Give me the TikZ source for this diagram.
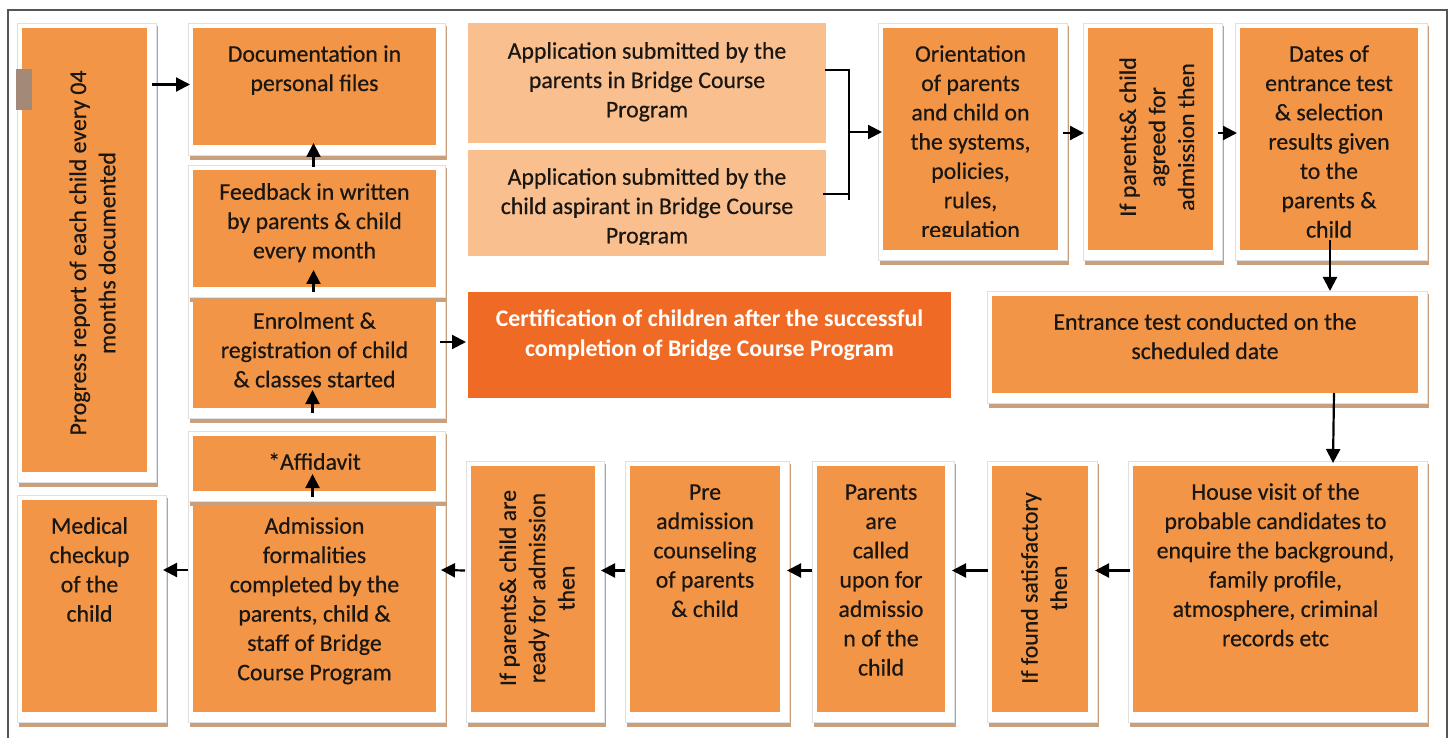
\documentclass[tikz,border=0pt]{standalone}
\usepackage{fontspec}
\setmainfont{Carlito}
\newfontfamily\bodyfont{Carlito}[FakeBold=0.5]
\usetikzlibrary{arrows.meta,fit,calc}
\definecolor{boxor}{HTML}{F39547}
\definecolor{applt}{HTML}{F9BF8F}
\definecolor{certor}{HTML}{EF6A24}
\definecolor{shad}{HTML}{C8A07D}
\definecolor{framec}{HTML}{555555}
\definecolor{artc}{HTML}{A38A78}
\definecolor{inkc}{HTML}{1A1612}
\tikzset{
  box/.style={draw=none, inner sep=0pt, outer sep=0pt},
  txt/.style={font=\bodyfont\fontsize{23.8}{29.3}\selectfont, align=center, inner sep=0pt, text=inkc},
  arr/.style={line width=2.2pt, draw=black, -{Triangle[length=14pt,width=14pt]}},
  brk/.style={line width=2.2pt, draw=black},
}
\newcommand\card[4]{%
  \fill[shad] (#1-3,#2-2) rectangle (#3+11,#4+15);
  \filldraw[fill=white, draw=black!12, line width=0.6pt] (#1-5,#2-5) rectangle (#3+9,#4+10);
}
\newcommand\bx[6]{\node[box, fill=#6, fit={(#2,#3) (#4,#5)}] (#1) {};}
\newcommand\ttx[4]{\node[txt, anchor=north] (#1) at (#2,#3-14) {\strut #4};}
\begin{document}
\begin{tikzpicture}[x=1pt,y=-1pt]
\useasboundingbox (0,0) rectangle (1452,738);
\fill[white] (0,0) rectangle (1452,738);
% frame
\draw[framec, line width=1.5pt] (8,738) -- (8,10) -- (1447,10) -- (1447,738);

% cards (shadow panels)
\card{193}{506}{436}{712}
\card{193}{436}{436}{491}
\card{193}{300}{436}{408}
\card{193}{170}{436}{287}
\card{193}{28}{436}{145}
\card{22}{28}{147}{472}
\card{22}{500}{157}{712}
\card{883}{28}{1058}{250}
\card{1088}{28}{1213}{250}
\card{1240}{28}{1418}{250}
\card{992}{296}{1418}{393}
\card{1133}{466}{1418}{712}
\card{992}{466}{1088}{712}
\card{817}{466}{945}{712}
\card{630}{466}{780}{712}
\card{471}{466}{595}{712}

% boxes
\bx{prog}{22}{28}{147}{472}{boxor}
\bx{doc}{193}{28}{436}{145}{boxor}
\bx{fb}{193}{170}{436}{287}{boxor}
\bx{enr}{193}{300}{436}{408}{boxor}
\bx{aff}{193}{436}{436}{491}{boxor}
\bx{adm}{193}{506}{436}{712}{boxor}
\bx{med}{22}{500}{157}{712}{boxor}
\bx{appa}{468}{23}{826}{143}{applt}
\bx{appb}{468}{150}{826}{256}{applt}
\bx{ori}{883}{28}{1058}{250}{boxor}
\bx{agr}{1088}{28}{1213}{250}{boxor}
\bx{dat}{1240}{28}{1418}{250}{boxor}
\bx{ent}{992}{296}{1418}{393}{boxor}
\bx{cert}{468}{292}{951}{398}{certor}
\bx{hv}{1133}{466}{1418}{712}{boxor}
\bx{fnd}{992}{466}{1088}{712}{boxor}
\bx{par}{817}{466}{945}{712}{boxor}
\bx{pre}{630}{466}{780}{712}{boxor}
\bx{rdy}{471}{466}{595}{712}{boxor}

% small grey marker at the left edge
\fill[artc] (16,69) rectangle (32,110);

% texts
\node[txt, rotate=90] (progt) at (92.5,253) {Progress report of each child every 04\\months documented};
\ttx{doct}{314.5}{55}{Documentation in\\personal files}
\ttx{fbt}{314.5}{193}{Feedback in written\\by parents \& child\\every month}
\ttx{enrt}{314.5}{322}{Enrolment \&\\registration of child\\\& classes started}
\ttx{afft}{314.5}{463}{*Affidavit}
\ttx{admt}{314.5}{527}{Admission\\formalities\\completed by the\\parents, child \&\\staff of Bridge\\Course Program}
\ttx{medt}{89.5}{527}{Medical\\checkup\\of the\\child}
\ttx{appat}{647}{52}{Application submitted by the\\parents in Bridge Course\\Program}
\begin{scope}
  \clip (468,150) rectangle (826,245);
  \ttx{appbt}{647}{178}{Application submitted by the\\child aspirant in Bridge Course\\Program}
\end{scope}
\begin{scope}
  \clip (883,28) rectangle (1058,237);
  \ttx{orit}{970.5}{55}{Orientation\\of parents\\and child on\\the systems,\\policies,\\rules,\\regulation}
\end{scope}
\begin{scope}
  \clip (1088,28) rectangle (1194,250);
  \node[txt, rotate=90] (agrt) at (1157,137) {If parents\& child\\agreed for\\admission then};
\end{scope}
\ttx{datt}{1329}{55}{Dates of\\entrance test\\\& selection\\results given\\to the\\parents \&\\child}
\ttx{entt}{1205}{323}{Entrance test conducted on the\\scheduled date}
\node[txt, anchor=north, text=white, font=\fontsize{23.8}{29.3}\selectfont\bfseries] (certt) at (709.5,320-14) {\strut Certification of children after the successful\\completion of Bridge Course Program};
\ttx{hvt}{1275.5}{493}{House visit of the\\probable candidates to\\enquire the background,\\family profile,\\atmosphere, criminal\\records etc}
\node[txt, rotate=90] (fndt) at (1044,588) {If found satisfactory\\then};
\ttx{part}{881}{493}{Parents\\are\\called\\upon for\\admissio\\n of the\\child}
\ttx{pret}{705}{493}{Pre\\admission\\counseling\\of parents\\\& child}
\node[txt, rotate=90] (rdyt) at (537,588) {If parents\& child are\\ready for admission\\then};

% connectors, left column
\draw[arr] ($(prog.east |- doc.west)+(5,-2)$) -- ($(doc.west)+(-3,-2)$);
\draw[arr] ($(fb.north)+(-1,-3)$) -- ($(doc.south)+(-1,-2)$);
\draw[arr] ($(enr.north)+(-1,-8)$) -- ($(fb.south)+(-1,-17)$);
\draw[arr] ($(aff.north)+(-2,-23)$) -- ($(enr.south)+(-2,-18)$);
\draw[arr] ($(adm.north)+(-2,-9)$) -- ($(aff.south)+(-2,-17)$);
\draw[arr] ($(enr.east |- cert.west)+(4,-3)$) -- ($(cert.west)+(-2,-3)$);

% bracket joining the two applications
\coordinate (bkt) at (849,70);
\coordinate (bkb) at (849,200);
\coordinate (bkm) at (849,132);
\draw[brk] ($(appa.east)+(-1,-13)$) -- (bkt) -- (bkb);
\draw[brk] ($(appb.east)+(-3,-9)$) -- (bkb |- 0,194);
\draw[arr] (bkm) -- ($(ori.west |- bkm)+(-1,0)$);

% top row
\draw[arr] ($(ori.east)+(5,-6)$) -- ($(agr.west)+(-4,-6)$);
\draw[arr] ($(agr.east)+(5,-6)$) -- ($(dat.west)+(-3,-6)$);
\draw[arr] ($(dat.south)+(1,-10)$) -- ($(dat.south |- ent.north)+(1,-5)$);
\draw[arr] ($(ent.south)+(129,0)$) -- ($(hv.north)+(57.5,-3)$);

% bottom row (right to left)
\draw[arr] ($(hv.west)+(-3,-18.5)$) -- ($(fnd.east)+(7,-18.5)$);
\draw[arr] ($(fnd.west)+(-4,-18.5)$) -- ($(par.east)+(7,-18.5)$);
\draw[arr] ($(par.west)+(-5,-18.5)$) -- ($(pre.east)+(7,-18.5)$);
\draw[arr] ($(pre.west)+(-5,-18.5)$) -- ($(rdy.east)+(6,-18.5)$);
\draw[arr] ($(rdy.west)+(-6,-18.5)$) -- ($(adm.east)+(5,-39)$);
\draw[arr] ($(adm.west)+(-5,-39)$) -- ($(med.east)+(6,-36)$);
\end{tikzpicture}
\end{document}
